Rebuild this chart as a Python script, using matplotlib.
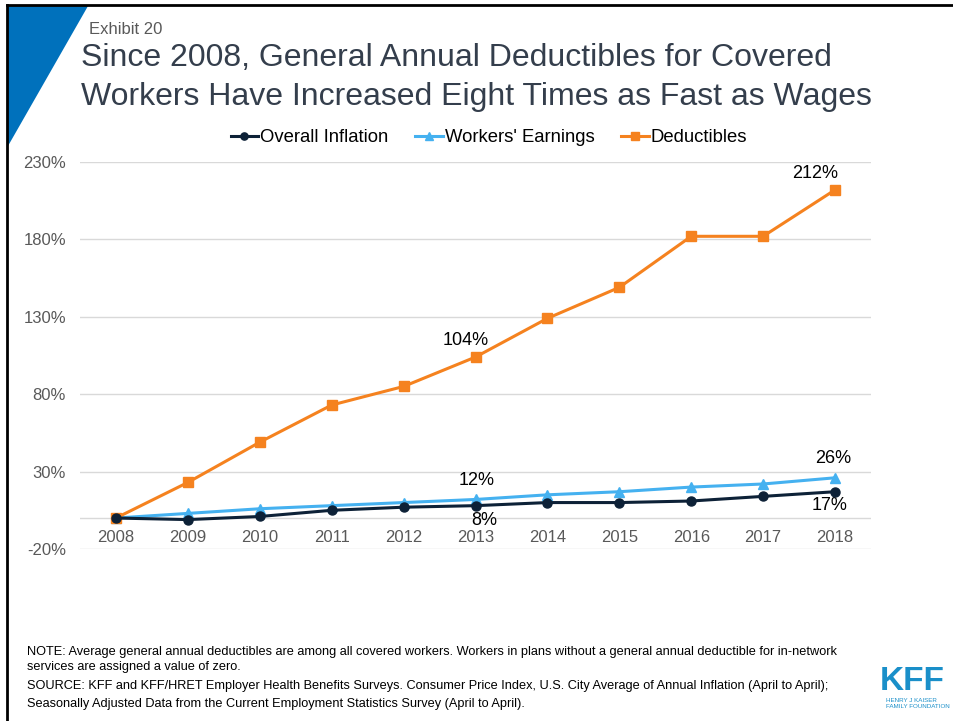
import matplotlib
matplotlib.use("Agg")
import matplotlib.pyplot as plt
from matplotlib.patches import Polygon
from matplotlib.lines import Line2D
from matplotlib import font_manager

years = [2008, 2009, 2010, 2011, 2012, 2013, 2014, 2015, 2016, 2017, 2018]
inflation = [0, -1, 1, 5, 7, 8, 10, 10, 11, 14, 17]
earnings = [0, 3, 6, 8, 10, 12, 15, 17, 20, 22, 26]
deductibles = [0, 23, 49, 73, 85, 104, 129, 149, 182, 182, 212]
y_ticks = [-20, 30, 80, 130, 180, 230]

FONT = "Liberation Sans"
installed = {f.name for f in font_manager.fontManager.ttflist}
NARROW = "Liberation Sans Narrow" if "Liberation Sans Narrow" in installed else FONT

plt.rcParams["font.family"] = [FONT, "DejaVu Sans"]

C_INF = "#0D2137"
C_EARN = "#45B1F0"
C_DED = "#F5821F"
GRID = "#D9D9D9"
TICK = "#595959"

fig = plt.figure(figsize=(9.54, 7.21), dpi=100)
W, H = 954, 721

def fx(px):
    return px / W

def fy(py):
    return 1 - py / H

# frame lines along top and left
fig.add_artist(Line2D([fx(7), fx(954)], [fy(5), fy(5)], color="black", lw=2.0,
                      transform=fig.transFigure))
fig.add_artist(Line2D([fx(7), fx(7)], [fy(5), fy(721)], color="black", lw=2.0,
                      transform=fig.transFigure))
# blue corner triangle
fig.add_artist(Polygon([[fx(8), fy(6)], [fx(88), fy(6)], [fx(8), fy(146)]],
                       closed=True, facecolor="#0071BC", edgecolor="none",
                       transform=fig.transFigure))

fig.text(fx(89), fy(30), "Exhibit 20", fontsize=12, color=TICK, va="center", ha="left")
fig.text(fx(81), fy(58), "Since 2008, General Annual Deductibles for Covered",
         fontsize=23.0, color="#343E4C", va="center", ha="left")
fig.text(fx(81), fy(97), "Workers Have Increased Eight Times as Fast as Wages",
         fontsize=23.0, color="#343E4C", va="center", ha="left")

left, right, top, bottom = 80, 871, 162, 549
ax = fig.add_axes([fx(left), fy(bottom), fx(right - left), (bottom - top) / H])
ax.set_xlim(2007.5, 2018.5)
ax.set_ylim(-20, 230)
ax.set_yticks(y_ticks)
ax.set_yticklabels([f"{v}%" for v in y_ticks])
ax.set_xticks([])
for s in ax.spines.values():
    s.set_visible(False)
for v in y_ticks:
    ax.axhline(v, color=GRID, lw=1.0, zorder=0)
ax.axhline(0, color=GRID, lw=1.0, zorder=0)
ax.tick_params(axis="y", length=0, pad=10, labelsize=12, labelcolor=TICK)

# category labels sit just under the zero line
for yr in years:
    ax.annotate(str(yr), xy=(yr, 0), xytext=(0, -14), textcoords="offset points",
                ha="center", va="center", fontsize=12, color=TICK, annotation_clip=False)

ax.plot(years, inflation, color=C_INF, lw=2.2, marker="o", markersize=6.5, zorder=4,
        label="Overall Inflation")
ax.plot(years, earnings, color=C_EARN, lw=2.2, marker="^", markersize=7, zorder=3,
        label="Workers' Earnings")
ax.plot(years, deductibles, color=C_DED, lw=2.2, marker="s", markersize=6.5, zorder=3,
        label="Deductibles")

def tag(x, y, text, dx, dy):
    ax.annotate(text, xy=(x, y), xytext=(dx, dy), textcoords="offset points",
                ha="center", va="center", fontsize=13, color="black")

i13 = years.index(2013)
i18 = years.index(2018)
tag(2013, deductibles[i13], f"{deductibles[i13]}%", -7, 12)
tag(2018, deductibles[i18], f"{deductibles[i18]}%", -14, 12)
tag(2013, earnings[i13], f"{earnings[i13]}%", 1, 14)
tag(2013, inflation[i13], f"{inflation[i13]}%", 6, -11)
tag(2018, earnings[i18], f"{earnings[i18]}%", -1, 14)
tag(2018, inflation[i18], f"{inflation[i18]}%", -4, -10)

fig.legend(*ax.get_legend_handles_labels(), loc="center", ncol=3,
           bbox_to_anchor=(fx(489), fy(138)), frameon=False, fontsize=13.3,
           handlelength=1.5, handletextpad=0.1, columnspacing=1.45,
           markerscale=0.8)

notes = [
    (652, "NOTE: Average general annual deductibles are among all covered workers. Workers in plans without a general annual deductible for in-network"),
    (667, "services are assigned a value of zero."),
    (686, "SOURCE: KFF and KFF/HRET Employer Health Benefits Surveys. Consumer Price Index, U.S. City Average of Annual Inflation (April to April);"),
    (704, "Seasonally Adjusted Data from the Current Employment Statistics Survey (April to April)."),
]
for py, txt in notes:
    fig.text(fx(27), fy(py), txt, fontsize=9.2, family=[NARROW, "DejaVu Sans"],
             color="black", va="center", ha="left")

# foundation mark
fig.text(fx(912), fy(681), "KFF", fontsize=24, fontweight="bold", color="#1A8FC9",
         family=[NARROW, "DejaVu Sans"], ha="center", va="center")
fig.text(fx(886), fy(700), "HENRY J KAISER", fontsize=4.5, color="#1A8FC9",
         family=[NARROW, "DejaVu Sans"], ha="left", va="center")
fig.text(fx(886), fy(707), "FAMILY FOUNDATION", fontsize=4.5, color="#1A8FC9",
         family=[NARROW, "DejaVu Sans"], ha="left", va="center")

fig.savefig("out.png", dpi=100, facecolor="white")
